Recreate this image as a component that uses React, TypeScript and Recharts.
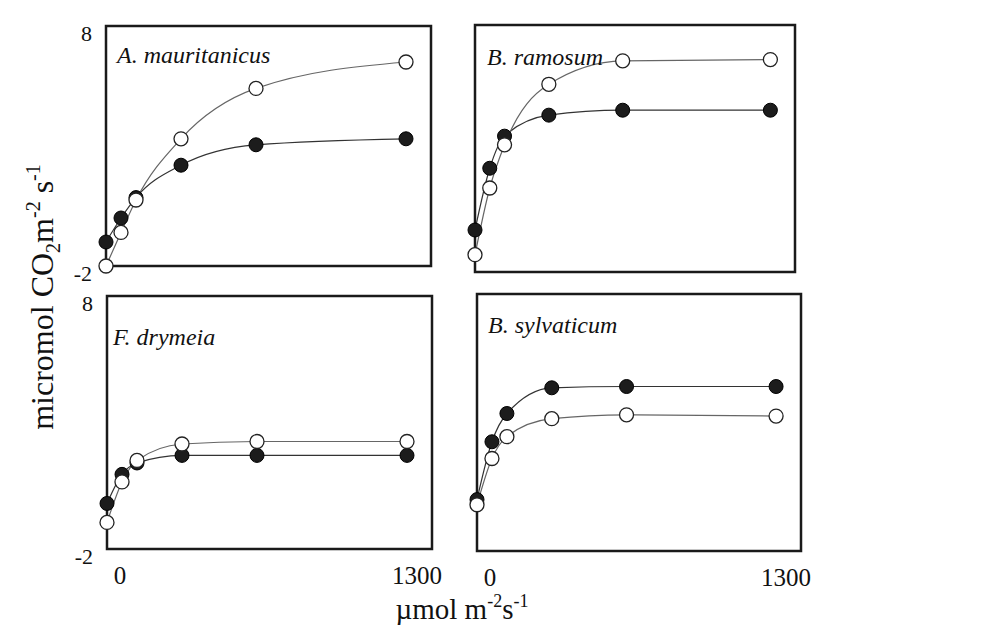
import { LineChart, Line, XAxis, YAxis, ReferenceArea } from "recharts";

// photon flux density, µmol m-2 s-1
const ppfd = [0, 60, 120, 300, 600, 1200];
const xTicks = [0, 1300];
const yTicks = [-2, 8];

// net CO2 uptake, open vs filled symbols
const mauritanicusOpen = [-2.0, -0.6, 0.75, 3.3, 5.4, 6.5];
const mauritanicusFilled = [-1.0, 0.0, 0.85, 2.2, 3.05, 3.3];
const ramosumOpen = [-1.3, 1.4, 3.15, 5.6, 6.55, 6.6];
const ramosumFilled = [-0.3, 2.2, 3.5, 4.35, 4.55, 4.55];
const drymeiaOpen = [-0.95, 0.65, 1.5, 2.15, 2.25, 2.25];
const drymeiaFilled = [-0.2, 0.95, 1.4, 1.7, 1.7, 1.7];
const sylvaticumOpen = [-0.2, 1.6, 2.45, 3.15, 3.3, 3.25];
const sylvaticumFilled = [0.0, 2.25, 3.35, 4.35, 4.4, 4.4];

const FONT = "'Liberation Serif', 'Times New Roman', serif";
const M = 12;

const panels = [
  { title: "A. mauritanicus", open: mauritanicusOpen, filled: mauritanicusFilled, L: 106, R: 431, T: 26, B: 266, tx: 11, ty: 37, showX: false, showY: true },
  { title: "B. ramosum", open: ramosumOpen, filled: ramosumFilled, L: 475, R: 795, T: 25, B: 272, tx: 12, ty: 40, showX: false, showY: false },
  { title: "F. drymeia", open: drymeiaOpen, filled: drymeiaFilled, L: 107, R: 432, T: 296, B: 549, tx: 6, ty: 49, showX: true, showY: true },
  { title: "B. sylvaticum", open: sylvaticumOpen, filled: sylvaticumFilled, L: 477, R: 801, T: 294, B: 551, tx: 11, ty: 39, showX: true, showY: false },
];

const XTick = (props: any) => {
  const { x, y, payload } = props;
  const shift = payload.value === 0 ? 13 : -11;
  return (
    <text x={x + shift} y={y + 35} textAnchor="middle" fill="#111" style={{ fontFamily: FONT, fontSize: 25 }}>
      {payload.value}
    </text>
  );
};

const YTick = (props: any) => {
  const { x, y, payload } = props;
  return (
    <text x={x - 14} y={y + 15} textAnchor="end" fill="#111" style={{ fontFamily: FONT, fontSize: 22 }}>
      {payload.value}
    </text>
  );
};

function Panel({ p }: { p: any }) {
  const yw = p.showY ? 50 : 0;
  const xh = p.showX ? 45 : 0;
  const mb = p.showX ? M : M + 16;
  const width = p.R - p.L + 2 * M + yw;
  const height = p.B - p.T + M + mb + xh;
  const data = ppfd.map((x, i) => ({ x, open: p.open[i], filled: p.filled[i] }));

  return (
    <div style={{ position: "absolute", left: p.L - M - yw, top: p.T - M }}>
      <LineChart width={width} height={height} data={data} margin={{ top: M, right: M, bottom: mb, left: M }}>
        <XAxis
          type="number"
          dataKey="x"
          domain={[0, 1300]}
          ticks={xTicks}
          hide={!p.showX}
          height={xh}
          axisLine={false}
          tickLine={false}
          tickSize={0}
          tickMargin={0}
          tick={<XTick />}
        />
        <YAxis
          type="number"
          domain={[-2, 8]}
          ticks={yTicks}
          hide={!p.showY}
          width={yw}
          axisLine={false}
          tickLine={false}
          tickSize={0}
          tickMargin={0}
          tick={<YTick />}
        />
        <ReferenceArea x1={0} x2={1300} y1={-2} y2={8} fill="none" stroke="#1a1a1a" strokeWidth={2.5} ifOverflow="visible" />
        <Line
          type="monotone"
          dataKey="filled"
          stroke="#333"
          strokeWidth={1.2}
          dot={{ r: 7, fill: "#1c1c1c", stroke: "#000", strokeWidth: 1 }}
          activeDot={false}
          isAnimationActive={false}
        />
        <Line
          type="monotone"
          dataKey="open"
          stroke="#666"
          strokeWidth={1.2}
          dot={{ r: 7, fill: "#fff", stroke: "#222", strokeWidth: 1.3 }}
          activeDot={false}
          isAnimationActive={false}
        />
      </LineChart>
    </div>
  );
}

export default function App() {
  return (
    <div style={{ position: "absolute", left: 0, top: 0, width: 994, height: 625, background: "#fff", overflow: "hidden" }}>
      {panels.map((p) => (
        <Panel key={p.title} p={p} />
      ))}
      <svg width={994} height={625} style={{ position: "absolute", left: 0, top: 0, pointerEvents: "none" }}>
        {panels.map((p) => (
          <text key={p.title} x={p.L + p.tx} y={p.T + p.ty} fill="#111" style={{ fontFamily: FONT, fontStyle: "italic", fontSize: 24 }}>
            {p.title}
          </text>
        ))}
        <text transform="translate(53,297) rotate(-90)" textAnchor="middle" fill="#111" style={{ fontFamily: FONT, fontSize: 32 }}>
          micromol CO
          <tspan fontSize={20} dy={7}>2</tspan>
          <tspan dy={-7}>m</tspan>
          <tspan fontSize={20} dy={-13}>-2</tspan>
          <tspan dy={13}> s</tspan>
          <tspan fontSize={20} dy={-13}>-1</tspan>
        </text>
        <text x={462} y={619} textAnchor="middle" fill="#111" style={{ fontFamily: FONT, fontSize: 29 }}>
          µmol m
          <tspan fontSize={18} dy={-12}>-2</tspan>
          <tspan dy={12}>s</tspan>
          <tspan fontSize={18} dy={-12}>-1</tspan>
        </text>
      </svg>
    </div>
  );
}
